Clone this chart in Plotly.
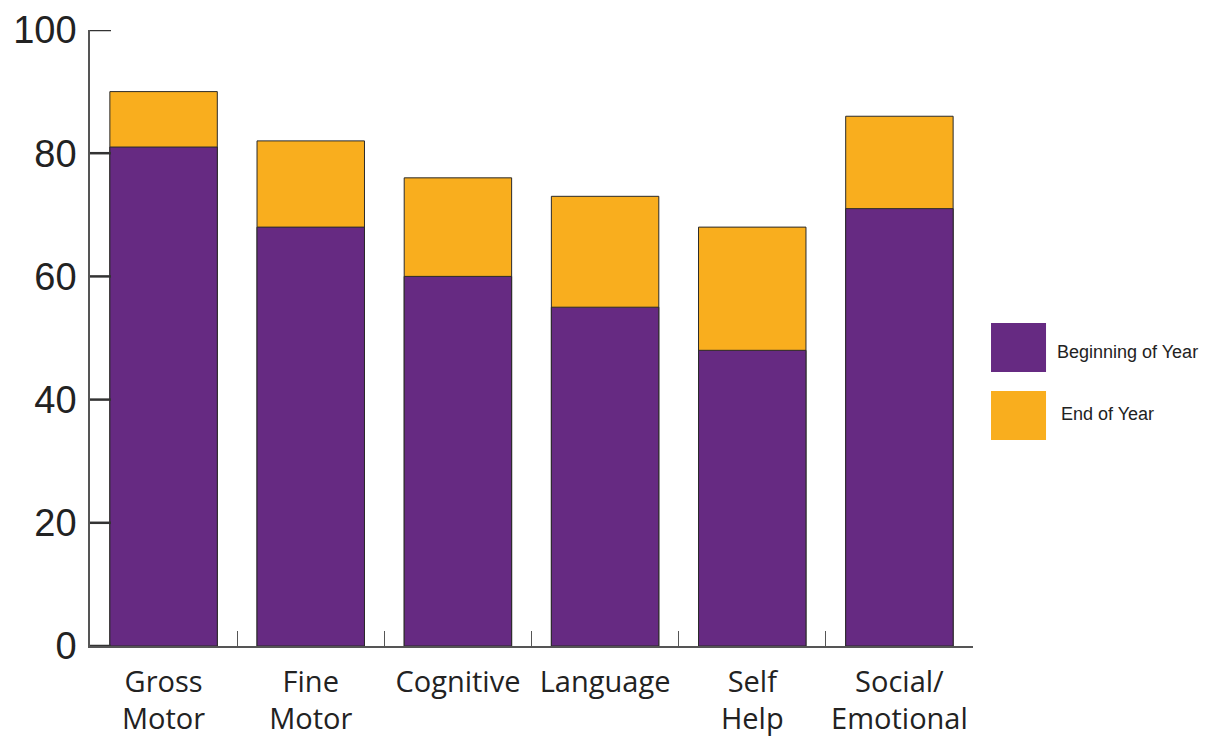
import plotly.graph_objects as go

categories = ["Gross<br>Motor", "Fine<br>Motor", "Cognitive", "Language", "Self<br>Help", "Social/<br>Emotional"]
beginning_of_year = [81, 68, 60, 55, 48, 71]
end_of_year = [90, 82, 76, 73, 68, 86]
y_ticks = [0, 20, 40, 60, 80, 100]

purple = "#662a82"
orange = "#f9ae1e"
outline = "#2a2a2a"
axis_col = "#555555"

fig = go.Figure()
fig.add_trace(go.Bar(x=categories, y=end_of_year, name="End of Year",
                     marker=dict(color=orange, line=dict(color=outline, width=1)),
                     width=0.73, showlegend=False))
fig.add_trace(go.Bar(x=categories, y=beginning_of_year, name="Beginning of Year",
                     marker=dict(color=purple, line=dict(color=outline, width=1)),
                     width=0.73, showlegend=False))

fig.update_layout(
    barmode="overlay",
    width=1207, height=737,
    margin=dict(l=90, r=234, t=30, b=91),
    plot_bgcolor="white", paper_bgcolor="white",
    xaxis=dict(
        type="category", tickson="boundaries", ticks="inside", ticklen=15,
        tickcolor=axis_col, tickwidth=1, showline=True, linecolor=axis_col, linewidth=1.5,
        showgrid=False, automargin=False,
        tickfont=dict(family="Open Sans, sans-serif", size=29, color="#222"),
        ticklabelstandoff=9, range=[-0.5, 5.5],
    ),
    yaxis=dict(
        range=[0, 100], tickmode="array", tickvals=y_ticks, ticks="",
        showline=True, linecolor=axis_col, linewidth=1.5,
        showgrid=False, zeroline=False, automargin=False,
        tickfont=dict(family="Liberation Sans, Arial, sans-serif", size=38, color="#222"),
        ticklabelstandoff=4,
    ),
)

# Inward y-axis tick marks
for v in y_ticks:
    fig.add_shape(type="line", xref="paper", yref="y", x0=0, x1=21 / 883, y0=v, y1=v,
                  line=dict(color="#333333", width=2.5), layer="above")

# Legend drawn as boxes with labels to the right of the plot
legend_items = [("Beginning of Year", purple, 0.5244, 0.4448, 1.0929, 0.4773),
                ("End of Year", orange, 0.4140, 0.3344, 1.0974, 0.3766)]
for label, color, y1, y0, tx, ty in legend_items:
    fig.add_shape(type="rect", xref="paper", yref="paper", x0=1.0204, x1=1.0827,
                  y0=y0, y1=y1, fillcolor=color, line=dict(width=0))
    fig.add_annotation(xref="paper", yref="paper", x=tx, y=ty, text=label,
                       showarrow=False, xanchor="left", yanchor="middle",
                       font=dict(family="Liberation Sans, Arial, sans-serif", size=18, color="#222"))

fig.write_html("out.html", config={"displayModeBar": False},
               post_script="document.body.style.margin='0';")
